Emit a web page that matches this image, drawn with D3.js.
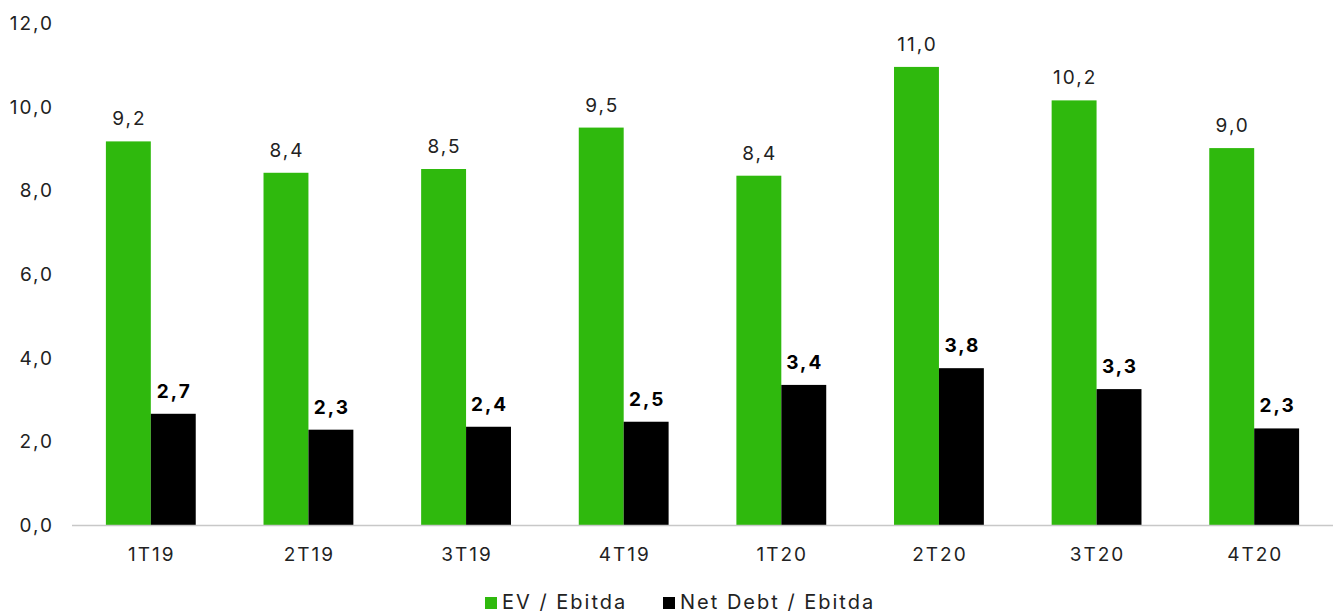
<!DOCTYPE html>
<html>
<head>
<meta charset="utf-8">
<script src="https://cdn.jsdelivr.net/npm/d3@7"></script>
<style>
  body { margin: 0; background: #fff; }
  svg { display: block; font-family: Inter, "Open Sans", sans-serif; }
</style>
</head>
<body>
<svg id="chart" width="1335" height="612"></svg>
<script>
var quarters = ["1T19", "2T19", "3T19", "4T19", "1T20", "2T20", "3T20", "4T20"]
var evEbitda = [9.18, 8.43, 8.52, 9.51, 8.36, 10.96, 10.16, 9.02]
var netDebtEbitda = [2.67, 2.29, 2.36, 2.48, 3.36, 3.76, 3.26, 2.32]
var yTicks = [0, 2, 4, 6, 8, 10, 12]
var seriesNames = ["EV / Ebitda", "Net Debt / Ebitda"]
var seriesColors = ["#2fb90d", "#000000"]

var svg = d3.select("#chart")
var plotLeft = 72, plotRight = 1333, plotTop = 23.4, plotBottom = 525.5
var ls = 2 // letter spacing, the source font is wider than Inter

var fmt = function(v){ return d3.format(".1f")(v).replace(".", ",") }

var x = d3.scaleBand().domain(quarters).range([plotLeft, plotRight]).paddingInner(0.43).paddingOuter(0.215)
var inner = d3.scaleBand().domain([0, 1]).range([0, x.bandwidth()])
var y = d3.scaleLinear().domain([0, 12]).range([plotBottom, plotTop])

// y tick labels
svg.selectAll(".ytick")
  .data(yTicks)
  .enter()
  .append("text")
  .attr("class", "ytick")
  .attr("x", 52 + ls)
  .attr("y", function(d){ return y(d) })
  .attr("dy", "0.35em")
  .attr("text-anchor", "end")
  .style("font-size", "19px")
  .style("letter-spacing", ls + "px")
  .style("fill", "#222")
  .text(function(d){ return fmt(d) })

var series = [evEbitda, netDebtEbitda]

series.forEach(function(vals, s){
  svg.selectAll(".bar" + s)
    .data(vals)
    .enter()
    .append("rect")
    .attr("class", "bar" + s)
    .attr("x", function(d, i){ return x(quarters[i]) + inner(s) })
    .attr("y", function(d){ return y(d) })
    .attr("width", inner.bandwidth())
    .attr("height", function(d){ return y(0) - y(d) })
    .style("fill", seriesColors[s])

  svg.selectAll(".lab" + s)
    .data(vals)
    .enter()
    .append("text")
    .attr("class", "lab" + s)
    .attr("x", function(d, i){ return x(quarters[i]) + inner(s) + inner.bandwidth() / 2 + ls / 2 })
    .attr("y", function(d){ return y(d) - 16 })
    .attr("text-anchor", "middle")
    .style("font-size", "19px")
    .style("letter-spacing", ls + "px")
    .style("font-weight", s == 1 ? "bold" : "normal")
    .style("fill", s == 1 ? "#000" : "#222")
    .text(function(d){ return fmt(d) })
})

// baseline
svg.append("line")
  .attr("x1", plotLeft).attr("x2", plotRight)
  .attr("y1", y(0)).attr("y2", y(0))
  .style("stroke", "#c8c8c8")
  .style("stroke-width", 1.5)

// category labels
svg.selectAll(".xlab")
  .data(quarters)
  .enter()
  .append("text")
  .attr("class", "xlab")
  .attr("x", function(d){ return x(d) + x.bandwidth() / 2 + ls / 2 })
  .attr("y", 554)
  .attr("dy", "0.35em")
  .attr("text-anchor", "middle")
  .style("font-size", "19px")
  .style("letter-spacing", ls + "px")
  .style("fill", "#222")
  .text(function(d){ return d })

// legend
var legendX = [485, 663]
seriesNames.forEach(function(name, s){
  svg.append("rect")
    .attr("x", legendX[s]).attr("y", 597)
    .attr("width", 12).attr("height", 12)
    .style("fill", seriesColors[s])
  svg.append("text")
    .attr("x", legendX[s] + 17).attr("y", 602)
    .attr("dy", "0.35em")
    .style("font-size", "20px")
    .style("letter-spacing", ls + "px")
    .style("fill", "#222")
    .text(name)
})
</script>
</body>
</html>
